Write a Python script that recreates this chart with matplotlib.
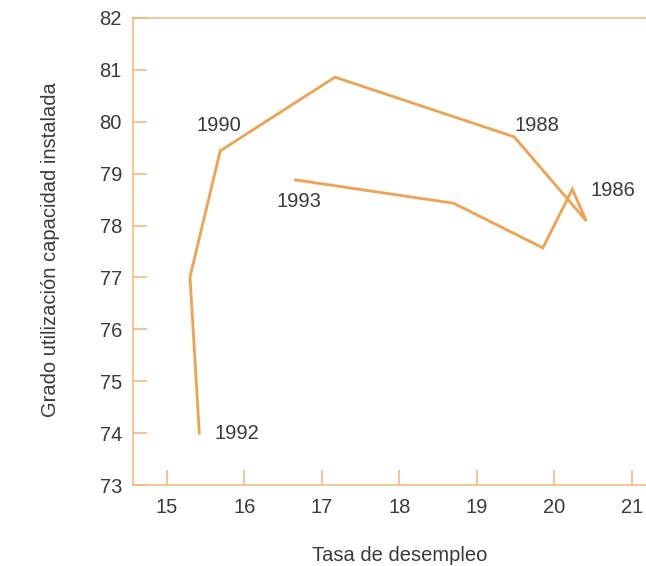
import matplotlib
matplotlib.use("Agg")
import matplotlib.pyplot as plt

# Trayectoria: tasa de desempleo vs grado de utilización de capacidad
desempleo = [16.66, 18.70, 19.85, 20.23, 20.41, 19.48, 17.17, 15.69, 15.30, 15.42]
utilizacion = [78.88, 78.43, 77.57, 78.70, 78.09, 79.71, 80.86, 79.44, 77.01, 74.00]

etiquetas = ["1993", "1986", "1988", "1990", "1992"]
etiq_x = [16.42, 20.46, 19.49, 15.39, 15.61]
etiq_y = [78.47, 78.68, 79.92, 79.92, 74.00]

x_ticks = [15, 16, 17, 18, 19, 20, 21]
y_ticks = [73, 74, 75, 76, 77, 78, 79, 80, 81, 82]

naranja = "#f4a04c"
naranja_eje = "#f6b574"
gris = "#3a3a3a"

plt.rcParams['font.family'] = ['Liberation Sans', 'DejaVu Sans']

fig = plt.figure(figsize=(6.46, 5.66), dpi=100)
ax = fig.add_axes([0.2059, 0.1431, 0.7941, 0.8251])

ax.plot(desempleo, utilizacion, color=naranja, lw=2.0, solid_joinstyle='miter')

for t, x, y in zip(etiquetas, etiq_x, etiq_y):
    ax.text(x, y, t, fontsize=14.5, color=gris, va='center', ha='left')

ax.set_xlim(14.565, 21.18)
ax.set_ylim(73, 82)
ax.set_xticks(x_ticks)
ax.set_yticks(y_ticks)

for lado in ['left', 'bottom', 'top']:
    ax.spines[lado].set_color(naranja_eje)
    ax.spines[lado].set_linewidth(1.1)
ax.spines['right'].set_visible(False)

ax.tick_params(axis='x', direction='in', length=11, width=1.1, color=naranja_eje,
               labelsize=14.5, labelcolor=gris, pad=9)
ax.tick_params(axis='y', direction='in', length=10, width=1.1, color=naranja_eje,
               labelsize=14.5, labelcolor=gris, pad=8)

ax.set_xlabel("Tasa de desempleo", fontsize=14.5, color=gris, va='center')
ax.xaxis.set_label_coords(0.52, -0.15)
ax.set_ylabel("Grado utilización capacidad instalada", fontsize=14.5, color=gris)
ax.yaxis.set_label_coords(-0.143, 0.503)

fig.savefig("out.png", dpi=100)
